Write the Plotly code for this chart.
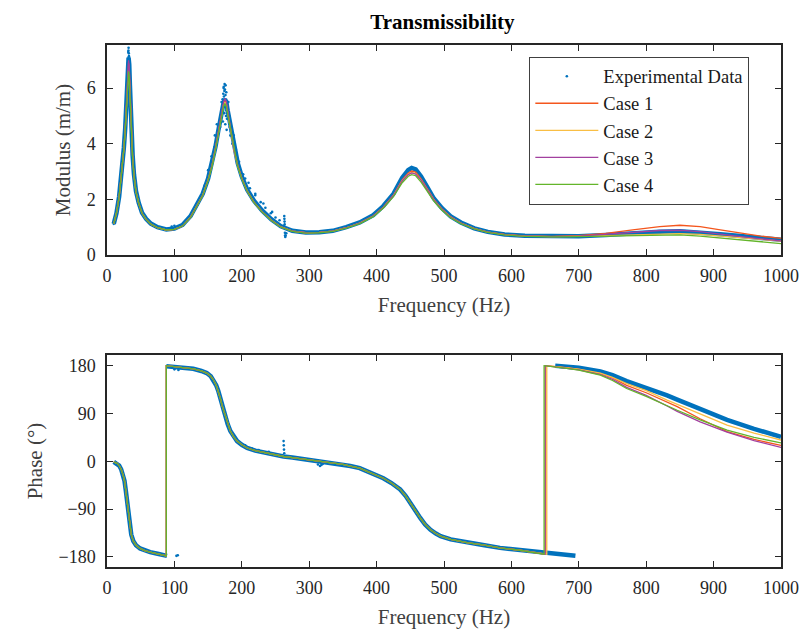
import plotly.graph_objects as go

# ---------------- DATA ----------------
# Modulus (top panel)
freq_mod = [10, 14, 18, 22, 25, 27, 29, 30, 31, 32, 33, 34, 35, 36, 38, 40, 43, 47, 52, 58,
            65, 75, 88, 100, 112, 124, 134, 142, 150, 156, 161, 165, 168, 171, 173, 175, 177, 179, 182, 185,
            189, 194, 200, 208, 218, 230, 244, 258, 275, 295, 315, 335, 355, 375, 395, 410, 425, 438, 447, 452,
            458, 466, 475, 485, 497, 510, 525, 545, 565, 590, 620, 660, 700, 740, 780, 820, 850, 880, 910, 940,
            970, 1000]

exp_mod = [1.12, 1.5, 2.1, 3.0, 3.85, 4.55, 5.45, 6.05, 6.65, 7.1, 6.85, 6.1, 5.3, 4.6, 3.6, 2.9, 2.3, 1.88, 1.52, 1.3,
           1.13, 1.0, 0.92, 0.95, 1.08, 1.4, 1.82, 2.2, 2.75, 3.3, 3.9, 4.45, 4.9, 5.25, 5.48, 5.6, 5.5, 5.2, 4.8, 4.35,
           3.8, 3.3, 2.82, 2.35, 1.95, 1.6, 1.28, 1.03, 0.87, 0.81, 0.82, 0.87, 1.0, 1.17, 1.43, 1.76, 2.2, 2.78, 3.06, 3.13,
           3.08, 2.82, 2.45, 2.03, 1.68, 1.39, 1.17, 0.96, 0.83, 0.74, 0.69, 0.66, 0.67, 0.72, 0.79, 0.84, 0.85, 0.82, 0.75, 0.68,
           0.61, 0.55]

case1_mod = [1.12, 1.5, 2.08, 2.95, 3.8, 4.5, 5.35, 5.95, 6.55, 6.9, 6.7, 5.95, 5.15, 4.5, 3.55, 2.88, 2.28, 1.86, 1.5, 1.28,
             1.11, 0.98, 0.9, 0.92, 1.04, 1.36, 1.77, 2.15, 2.7, 3.24, 3.85, 4.4, 4.85, 5.2, 5.45, 5.55, 5.45, 5.15, 4.75, 4.28,
             3.72, 3.22, 2.76, 2.3, 1.9, 1.56, 1.25, 1.01, 0.86, 0.8, 0.81, 0.86, 0.98, 1.15, 1.4, 1.72, 2.15, 2.7, 2.95, 3.02,
             2.98, 2.74, 2.39, 2.0, 1.65, 1.37, 1.15, 0.95, 0.82, 0.74, 0.69, 0.67, 0.7, 0.78, 0.9, 1.02, 1.07, 1.02, 0.9, 0.78,
             0.68, 0.6]

case2_mod = [1.12, 1.5, 2.08, 2.95, 3.8, 4.48, 5.3, 5.8, 6.35, 6.65, 6.45, 5.8, 5.1, 4.45, 3.52, 2.86, 2.27, 1.86, 1.5, 1.28,
             1.11, 0.98, 0.9, 0.92, 1.04, 1.36, 1.77, 2.15, 2.7, 3.22, 3.82, 4.38, 4.82, 5.15, 5.4, 5.5, 5.4, 5.12, 4.72, 4.26,
             3.7, 3.2, 2.75, 2.3, 1.9, 1.56, 1.25, 1.01, 0.86, 0.8, 0.81, 0.86, 0.98, 1.15, 1.4, 1.71, 2.14, 2.67, 2.91, 2.97,
             2.93, 2.7, 2.36, 1.98, 1.64, 1.36, 1.15, 0.95, 0.82, 0.73, 0.68, 0.66, 0.67, 0.7, 0.74, 0.77, 0.77, 0.74, 0.68, 0.62,
             0.56, 0.5]

case3_mod = [1.12, 1.5, 2.08, 2.95, 3.8, 4.52, 5.4, 6.0, 6.6, 7.0, 6.75, 6.0, 5.2, 4.52, 3.56, 2.88, 2.28, 1.86, 1.5, 1.28,
             1.11, 0.98, 0.9, 0.92, 1.04, 1.36, 1.77, 2.15, 2.7, 3.25, 3.86, 4.42, 4.88, 5.25, 5.5, 5.63, 5.52, 5.22, 4.8, 4.3,
             3.73, 3.22, 2.76, 2.3, 1.9, 1.56, 1.25, 1.01, 0.86, 0.8, 0.81, 0.86, 0.98, 1.15, 1.4, 1.71, 2.14, 2.66, 2.89, 2.95,
             2.91, 2.69, 2.36, 1.98, 1.64, 1.36, 1.15, 0.95, 0.82, 0.73, 0.68, 0.66, 0.68, 0.74, 0.82, 0.88, 0.89, 0.84, 0.75, 0.66,
             0.58, 0.51]

case4_mod = [1.12, 1.5, 2.08, 2.95, 3.8, 4.48, 5.3, 5.8, 6.35, 6.6, 6.4, 5.8, 5.1, 4.45, 3.52, 2.86, 2.27, 1.86, 1.5, 1.28,
             1.11, 0.98, 0.9, 0.92, 1.04, 1.35, 1.76, 2.14, 2.68, 3.2, 3.8, 4.35, 4.78, 5.1, 5.35, 5.45, 5.35, 5.08, 4.7, 4.24,
             3.68, 3.18, 2.74, 2.29, 1.89, 1.55, 1.24, 1.0, 0.85, 0.79, 0.8, 0.85, 0.97, 1.13, 1.38, 1.69, 2.1, 2.6, 2.83, 2.89,
             2.85, 2.62, 2.3, 1.94, 1.61, 1.34, 1.13, 0.94, 0.81, 0.72, 0.67, 0.65, 0.66, 0.68, 0.7, 0.72, 0.72, 0.68, 0.61, 0.54,
             0.47, 0.41]

# Scattered experimental points (noise around the peaks, flanks and the 263 Hz spike)
exp_scatter_mod_f = [30.5, 31, 31.5, 32, 32.3, 33, 29.5, 34.5, 31.8, 32.6, 27.5, 36.5,
                     168, 169, 170, 171, 172, 172.5, 173, 173.5, 174, 174.5, 175, 175.5, 176, 176.5, 177, 177.5,
                     178, 178.5, 179, 180, 181, 182, 183, 184, 186, 171.5, 174.2, 175.8, 177.2, 173.2,
                     140, 145, 150, 155, 160, 163,
                     188, 191, 196, 202, 210, 220, 232, 245,
                     96, 100, 104, 205, 212, 220, 228, 235, 243, 250, 256, 262,
                     263, 263.2, 263.4, 263.6, 263.8, 264, 264.2, 264.5, 265, 266]
exp_scatter_mod_v = [6.5, 6.9, 7.3, 7.45, 7.25, 7.0, 5.9, 5.8, 7.35, 7.15, 4.9, 4.3,
                     4.6, 5.0, 5.5, 5.1, 4.8, 5.8, 6.0, 5.7, 5.1, 6.15, 5.95, 4.7, 6.1, 5.0, 5.85, 4.5,
                     4.9, 5.3, 5.5, 5.5, 5.0, 4.6, 4.3, 4.45, 4.0, 5.6, 5.9, 5.75, 5.2, 6.05,
                     2.15, 2.5, 3.05, 3.55, 4.3, 4.7,
                     4.3, 3.8, 3.35, 2.9, 2.6, 2.2, 1.85, 1.55,
                     1.02, 1.05, 1.0, 2.75, 2.4, 2.15, 1.9, 1.7, 1.5, 1.35, 1.25, 1.05,
                     1.4, 1.3, 1.2, 1.1, 1.0, 0.8, 0.7, 0.65, 0.7, 0.78]

# Phase (bottom panel) -- experimental, None separates the wrapped branches
freq_phase_exp = [10, 15, 18, 21, 24, 26, 28, 30, 32, 34, 36, 39, 43, 49, 56, 64, 75, 86, 89, None,
                  88, 95, 103, 115, 128, 140, 148, 154, 158, 162, 165, 168, 171, 175, 179, 183, 188, 193, 200, 208,
                  220, 237, 250, 262, 275, 287, 300, 311, 325, 336, 350, 361, 375, 386, 398, 410, 422, 435, 443, 450,
                  458, 465, 472, 480, 488, 495, 510, 534, 560, 583, 610, 630, 648, 670, 695, None,
                  665, 682, 700, 732, 750, 771, 800, 831, 846, 880, 920, 960, 1000]
exp_phase = [-1, -4, -8, -15, -26, -37, -56, -79, -104, -124, -138, -150, -158, -164, -168, -171, -174, -177, -178, None,
             179, 178, 176, 176, 174, 170, 166, 160, 153, 143, 133, 119, 104, 87, 70, 57, 46, 38, 31, 25,
             20, 15, 12, 9, 7, 5, 3, 1, -1, -3, -6, -9, -13, -19, -25, -32, -41, -53, -65, -79,
             -94, -107, -119, -129, -136, -141, -147, -153, -158, -163, -167, -170, -173, -176, -178, None,
             180, 179, 176, 169, 162, 151, 139, 124, 116, 98, 78, 61, 46]

exp_scatter_phase_f = [103, 105, 100, 106, 262, 262.3, 262.6, 263, 313, 316, 318, 320, 205, 215, 225, 240]
exp_scatter_phase_v = [-178, -177, 173, 172, 38, 30, 22, 15, -6, -9, -7, -5, 30, 24, 21, 18]

# Phase of the models: common part below the second wrap
model_lower_f = [10, 15, 18, 21, 24, 26, 28, 30, 32, 34, 36, 39, 43, 49, 56, 64, 75, 88]
model_lower_v = [-1, -4, -8, -15, -26, -37, -56, -79, -104, -124, -138, -150, -158, -164, -168, -171, -174, -178]
model_mid_f = [88, 95, 103, 115, 128, 140, 148, 154, 158, 162, 165, 168, 171, 175, 179, 183, 188, 193, 200, 208,
               220, 237, 250, 262, 275, 287, 300, 311, 325, 336, 350, 361, 375, 386, 398, 410, 422, 435, 443, 450,
               458, 465, 472, 480, 488, 495, 510, 534, 560, 583, 610, 630, 645]
model_mid_v = [180, 179, 178, 176, 174, 170, 166, 160, 153, 143, 133, 119, 104, 87, 70, 57, 46, 38, 31, 25,
               20, 15, 12, 9, 7, 5, 3, 1, -1, -3, -6, -9, -13, -19, -25, -32, -41, -53, -65, -79,
               -94, -107, -119, -129, -136, -141, -147, -153, -158, -163, -167, -171, -174]
case_wrap_f = [651, 652.5, 650, 648.5]
upper_f = [665, 682, 700, 732, 750, 771, 800, 831, 846, 880, 920, 960, 1000]
case1_upper = [178.5, 176, 173, 165, 157, 143, 129, 111, 103, 80, 56, 41, 30]
case2_upper = [178.5, 176.5, 173.5, 166, 158, 146, 133, 115, 107, 88, 68, 53, 40]
case3_upper = [178, 175, 172, 163, 154, 139, 124, 104, 94, 74, 55, 39, 26]
case4_upper = [178, 175, 171.5, 162, 152, 137, 122, 104, 96, 78, 58.5, 45, 34.5]

case_names = ["Case 1", "Case 2", "Case 3", "Case 4"]
case_colors = ["#F4561D", "#F9BE44", "#A2409F", "#63B52A"]
exp_color = "#0072BD"

x_ticks = [0, 100, 200, 300, 400, 500, 600, 700, 800, 900, 1000]
mod_ticks = [0, 2, 4, 6]
phase_ticks = [-180, -90, 0, 90, 180]
phase_tick_text = ["\u2212180", "\u221290", "0", "90", "180"]

# ---------------- FIGURE ----------------
FONT = "Liberation Serif"
fig = go.Figure()

# top panel
fig.add_trace(go.Scatter(x=freq_mod, y=exp_mod, mode="lines", line=dict(color=exp_color, width=4.5),
                         showlegend=False, hoverinfo="skip", legendgroup="exp", xaxis="x", yaxis="y"))
fig.add_trace(go.Scatter(x=freq_mod + exp_scatter_mod_f, y=exp_mod + exp_scatter_mod_v, mode="markers",
                         marker=dict(color=exp_color, size=2.6), name="Experimental Data",
                         legendgroup="exp", xaxis="x", yaxis="y"))
for name, col, vals in zip(case_names, case_colors, [case1_mod, case2_mod, case3_mod, case4_mod]):
    fig.add_trace(go.Scatter(x=freq_mod, y=vals, mode="lines", line=dict(color=col, width=1.3),
                             name=name, legendgroup=name, xaxis="x", yaxis="y"))

# bottom panel
fig.add_trace(go.Scatter(x=freq_phase_exp, y=exp_phase, mode="lines", line=dict(color=exp_color, width=4.5),
                         connectgaps=False, showlegend=False, hoverinfo="skip", xaxis="x2", yaxis="y2"))
fig.add_trace(go.Scatter(x=exp_scatter_phase_f, y=exp_scatter_phase_v, mode="markers",
                         marker=dict(color=exp_color, size=2.6), showlegend=False, xaxis="x2", yaxis="y2"))
for name, col, wf, up in zip(case_names, case_colors, case_wrap_f,
                             [case1_upper, case2_upper, case3_upper, case4_upper]):
    xs = model_lower_f + model_mid_f + [wf, wf] + upper_f
    ys = model_lower_v + model_mid_v + [-175, 180] + up
    fig.add_trace(go.Scatter(x=xs, y=ys, mode="lines", line=dict(color=col, width=1.3),
                             showlegend=False, legendgroup=name, xaxis="x2", yaxis="y2"))

axis_common = dict(showline=True, linecolor="#262626", linewidth=1.5, mirror="ticks", ticks="inside",
                   ticklen=6, tickwidth=1.2, tickcolor="#262626", showgrid=False, zeroline=False,
                   automargin=False,
                   tickfont=dict(family=FONT, size=18, color="#262626"))

title_font = dict(family=FONT, size=21, color="#404040")

fig.update_layout(
    width=803, height=635,
    margin=dict(l=107, r=22, t=45, b=68, autoexpand=False),
    plot_bgcolor="white", paper_bgcolor="white",
    font=dict(family=FONT, color="#262626"),
    title=dict(text="<b>Transmissibility</b>", x=0.551, xanchor="center", xref="container",
               y=1 - 22 / 635, yref="container", yanchor="middle", automargin=False,
               font=dict(family=FONT, size=21, color="#000000")),
    xaxis=dict(domain=[0, 1], range=[0, 1000], tickvals=x_ticks, anchor="y",
               title=dict(text="Frequency (Hz)", font=title_font, standoff=12),
               ticklabelstandoff=4, **axis_common),
    yaxis=dict(domain=[0.5977, 1], range=[0, 7.55], tickvals=mod_ticks, anchor="x",
               title=dict(text="Modulus (m/m)", font=title_font, standoff=10),
               ticklabelstandoff=6, **axis_common),
    xaxis2=dict(domain=[0, 1], range=[0, 1000], tickvals=x_ticks, anchor="y2",
                title=dict(text="Frequency (Hz)", font=title_font, standoff=12),
                ticklabelstandoff=4, **axis_common),
    yaxis2=dict(domain=[0, 0.4061], range=[-199, 200], tickvals=phase_ticks, ticktext=phase_tick_text,
                anchor="x2",
                title=dict(text="Phase (\u00b0)", font=title_font, standoff=10),
                ticklabelstandoff=6, **axis_common),
    legend=dict(x=0.6266, y=0.9776, xanchor="left", yanchor="top", bgcolor="white",
                bordercolor="#404040", borderwidth=1, itemwidth=63,
                font=dict(family=FONT, size=18.5, color="#1a1a1a"), tracegroupgap=0),
    showlegend=True,
)

fig.write_html("out.html", config={"displayModeBar": False},
               post_script="document.body.style.margin='0px';document.body.style.overflow='hidden';")
